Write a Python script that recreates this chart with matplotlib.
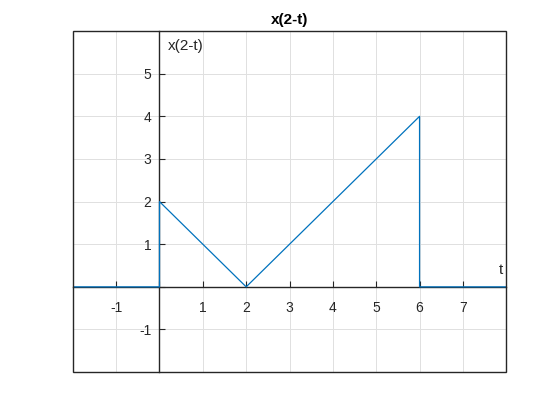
import numpy as np
import matplotlib.pyplot as plt
from matplotlib.ticker import FixedLocator, FuncFormatter
from matplotlib.patches import Rectangle

plt.rcParams['font.family'] = ['Liberation Sans', 'DejaVu Sans']

# signal x(2-t)
T = [-2, 0, 0, 2, 6, 6, 8]
X = [0, 0, 2, 0, 4, 0, 0]
XTICKS = [-1, 0, 1, 2, 3, 4, 5, 6, 7]
YTICKS = [-1, 0, 1, 2, 3, 4, 5]

TXT = '#262626'


def hide_zero(v, pos=None):
    return '' if v == 0 else '{:g}'.format(v)


fig = plt.figure(figsize=(5.6, 4.2), dpi=100)
ax = fig.add_axes([0.13, 0.114, 0.774, 0.812])

ax.plot(T, X, color='#0072BD', lw=0.9, zorder=3)

ax.set_xlim(-2, 8)
ax.set_ylim(-2, 6)

# axes through the origin
for s in ['top', 'right']:
    ax.spines[s].set_visible(False)
ax.spines['left'].set_position('zero')
ax.spines['bottom'].set_position('zero')
for s in ['left', 'bottom']:
    ax.spines[s].set_color(TXT)
    ax.spines[s].set_linewidth(1.0)
ax.add_patch(Rectangle((0, 0), 1, 1, transform=ax.transAxes, fill=False,
                       edgecolor=TXT, lw=1.0, zorder=5, clip_on=False))

ax.xaxis.set_major_locator(FixedLocator(XTICKS))
ax.yaxis.set_major_locator(FixedLocator(YTICKS))
ax.xaxis.set_major_formatter(FuncFormatter(hide_zero))
ax.yaxis.set_major_formatter(FuncFormatter(hide_zero))
ax.tick_params(direction='in', length=4, width=0.8, colors=TXT,
               labelsize=10, pad=10)
ax.tick_params(axis='y', pad=6)

ax.grid(True, color='#e0e0e0', lw=0.7)
ax.set_axisbelow(True)

ax.text(0.2, 5.65, 'x(2-t)', fontsize=11, color=TXT, ha='left', va='center')
ax.text(7.92, 0.22, 't', fontsize=11, color=TXT, ha='right', va='bottom')
ax.set_title('x(2-t)', fontsize=11, fontweight='bold', color='black', pad=5)

plt.savefig('out.png')
